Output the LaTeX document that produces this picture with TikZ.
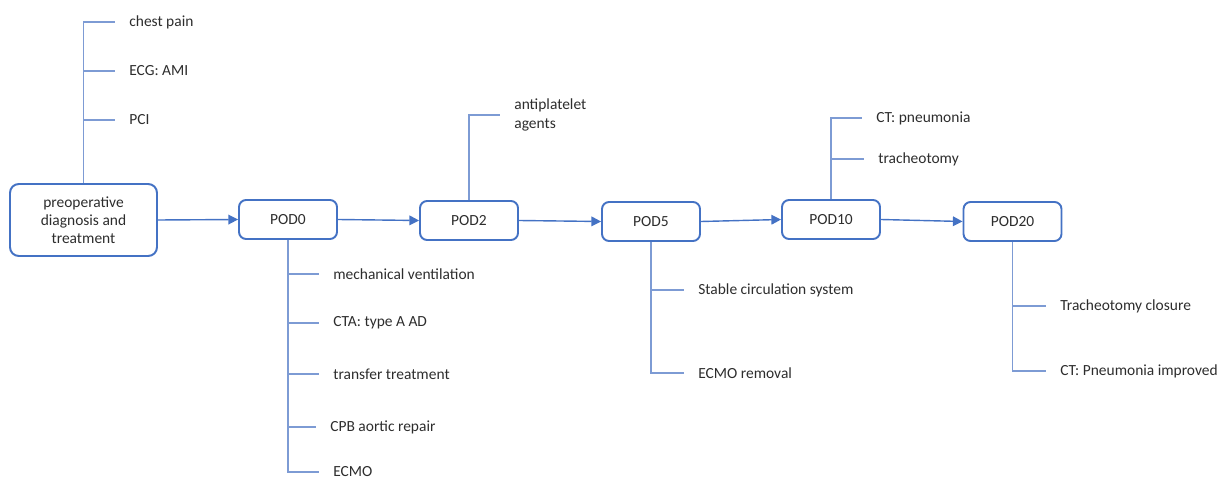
\documentclass[tikz,border=0pt]{standalone}
\usepackage{fontspec}
\setmainfont{Carlito}
\usetikzlibrary{arrows.meta}
\definecolor{boxblue}{RGB}{68,114,196}
\definecolor{lineblue}{RGB}{125,155,212}
\definecolor{txtgray}{RGB}{45,45,45}
\begin{document}
\begin{tikzpicture}[x=0.02cm, y=-0.02cm,
    font=\fontsize{8.8}{10.4}\selectfont, text=txtgray,
    box/.style={draw=boxblue, line width=1.1pt, rounded corners=4pt,
        minimum width=1.96cm, minimum height=0.78cm, align=center},
    flow/.style={draw=boxblue, line width=0.8pt, -{Triangle[length=5.5pt,width=5.5pt]}},
    branch/.style={draw=lineblue, line width=0.6pt},
    item/.style={anchor=west, inner xsep=0.28cm, inner ysep=0pt, align=left}]
    \useasboundingbox (0,0) rectangle (1229,479);
    % time line
    \node[box, minimum width=2.94cm, minimum height=1.44cm, rounded corners=5pt] (pre) at (83.5,220)
        {preoperative\\diagnosis and\\treatment};
    \node[box] (pod0) at (288,219.5) {POD0};
    \node[box] (pod2) at (469,220.5) {POD2};
    \node[box] (pod5) at (651,221.5) {POD5};
    \node[box] (pod10) at (831,219.5) {POD10};
    \node[box] (pod20) at (1012.5,221.5) {POD20};
    \draw[flow] (pre.east) -- (pod0.west);
    \draw[flow] (pod0.east) -- (pod2.west);
    \draw[flow] (pod2.east) -- (pod5.west);
    \draw[flow] (pod5.east) -- (pod10.west);
    \draw[flow] (pod10.east) -- (pod20.west);
    % events
    \node[item] (pain) at (115,22) {chest pain};
    \node[item] (ecg) at (115,71) {ECG: AMI};
    \node[item] (pci) at (115,120) {PCI};
    \node[item] (vent) at (319,274) {mechanical ventilation};
    \node[item] (cta) at (319,323) {CTA: type A AD};
    \node[item] (trans) at (319,374) {transfer treatment};
    \node[item] (cpb) at (316,427) {CPB aortic repair};
    \node[item] (ecmo) at (319,472) {ECMO};
    \node[item] (anti) at (500,115) {antiplatelet\\agents};
    \node[item] (stable) at (684,290) {Stable circulation system};
    \node[item] (remove) at (684,373) {ECMO removal};
    \node[item] (ctp) at (862,118) {CT: pneumonia};
    \node[item] (trach) at (864,159) {tracheotomy};
    \node[item] (close) at (1046,306) {Tracheotomy closure};
    \node[item] (ctimp) at (1046,371) {CT: Pneumonia improved};
    \draw[branch] (pre.north) |- (pain.west);
    \draw[branch] (pre.north) |- (ecg.west);
    \draw[branch] (pre.north) |- (pci.west);
    \draw[branch] (pod0.south) |- (vent.west);
    \draw[branch] (pod0.south) |- (cta.west);
    \draw[branch] (pod0.south) |- (trans.west);
    \draw[branch] (pod0.south) |- (cpb.west);
    \draw[branch] (pod0.south) |- (ecmo.west);
    \draw[branch] (pod2.north) |- (anti.west);
    \draw[branch] (pod5.south) |- (stable.west);
    \draw[branch] (pod5.south) |- (remove.west);
    \draw[branch] (pod10.north) |- (ctp.west);
    \draw[branch] (pod10.north) |- (trach.west);
    \draw[branch] (pod20.south) |- (close.west);
    \draw[branch] (pod20.south) |- (ctimp.west);
\end{tikzpicture}
\end{document}
